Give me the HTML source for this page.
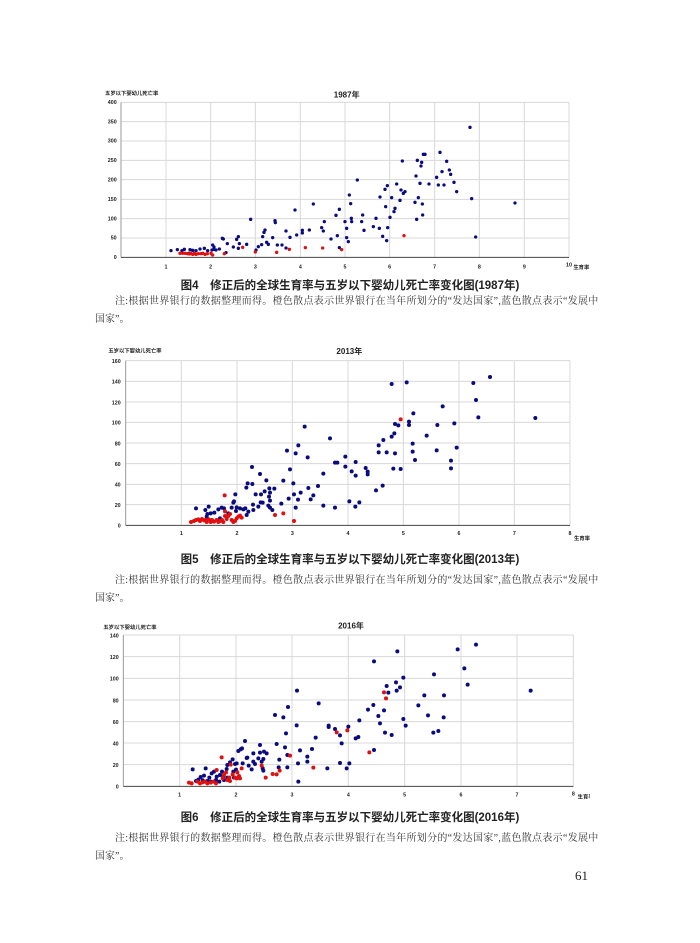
<!DOCTYPE html>
<html><head><meta charset="utf-8"><style>
body{margin:0;background:#fff;width:700px;height:943px;position:relative;overflow:hidden;font-family:"Liberation Sans","Noto Sans CJK SC",sans-serif}
svg{position:absolute}
.cap{position:absolute;left:0;width:700px;text-align:center;font-size:11.5px;font-weight:bold;color:#222;font-family:"Liberation Sans","Noto Sans CJK SC",sans-serif}
.n1{position:absolute;left:115px;width:476px;font-size:10px;color:#333;font-family:"Liberation Serif","Noto Serif CJK SC",serif;text-align:justify;text-align-last:justify;white-space:nowrap;letter-spacing:0.3px}
.n2{position:absolute;left:95px;font-size:10px;color:#333;font-family:"Liberation Serif","Noto Serif CJK SC",serif}
.t{font-size:16px;font-weight:bold;fill:#222}
.tt{font-size:24px;font-weight:bold;fill:#222}
.b circle{fill:#0b0b80}
.r circle{fill:#e01010}
</style></head><body>

<!-- Chart 1 -->
<svg style="left:90px;top:85px" width="500" height="240" viewBox="0 0 1500 720">
<g stroke="#d8d8d8" stroke-width="3">
<line x1="93" y1="52" x2="1437" y2="52"/><line x1="93" y1="110" x2="1437" y2="110"/><line x1="93" y1="168" x2="1437" y2="168"/><line x1="93" y1="226" x2="1437" y2="226"/><line x1="93" y1="284" x2="1437" y2="284"/><line x1="93" y1="343" x2="1437" y2="343"/><line x1="93" y1="401" x2="1437" y2="401"/><line x1="93" y1="459" x2="1437" y2="459"/>
<line x1="228" y1="52" x2="228" y2="517"/><line x1="362" y1="52" x2="362" y2="517"/><line x1="496" y1="52" x2="496" y2="517"/><line x1="631" y1="52" x2="631" y2="517"/><line x1="765" y1="52" x2="765" y2="517"/><line x1="899" y1="52" x2="899" y2="517"/><line x1="1034" y1="52" x2="1034" y2="517"/><line x1="1168" y1="52" x2="1168" y2="517"/><line x1="1303" y1="52" x2="1303" y2="517"/><line x1="1437" y1="52" x2="1437" y2="517"/>
</g>
<line x1="93" y1="52" x2="93" y2="517" stroke="#999" stroke-width="3"/>
<line x1="93" y1="517" x2="1437" y2="517" stroke="#444" stroke-width="3"/>
<g class="t" text-anchor="end"><text x="80" y="57">400</text><text x="80" y="115">350</text><text x="80" y="173">300</text><text x="80" y="231">250</text><text x="80" y="289">200</text><text x="80" y="348">150</text><text x="80" y="406">100</text><text x="80" y="464">50</text><text x="80" y="522">0</text></g>
<g class="t" text-anchor="middle"><text x="228" y="550">1</text><text x="362" y="550">2</text><text x="496" y="550">3</text><text x="631" y="550">4</text><text x="765" y="550">5</text><text x="899" y="550">6</text><text x="1034" y="550">7</text><text x="1168" y="550">8</text><text x="1303" y="550">9</text><text x="1437" y="545">10</text></g>
<text x="1450" y="552" class="t" font-size="13">生育率</text>
<text x="45" y="30" class="t" font-size="15">五岁以下婴幼儿死亡率</text>
<text x="770" y="38" class="tt" text-anchor="middle">1987年</text>
<g class="b">
<circle cx="1140" cy="127" r="5"/><circle cx="1050" cy="202" r="5"/><circle cx="1070" cy="229" r="5"/><circle cx="1000" cy="208" r="5"/><circle cx="1005" cy="208" r="5"/><circle cx="937" cy="228" r="5"/><circle cx="995" cy="232" r="5"/><circle cx="993" cy="243" r="5"/><circle cx="982" cy="226" r="5"/><circle cx="978" cy="273" r="5"/><circle cx="1040" cy="277" r="5"/><circle cx="1078" cy="255" r="5"/><circle cx="1082" cy="268" r="5"/><circle cx="1056" cy="260" r="5"/><circle cx="1045" cy="300" r="5"/><circle cx="1062" cy="300" r="5"/><circle cx="1092" cy="292" r="5"/><circle cx="1100" cy="320" r="5"/><circle cx="1145" cy="341" r="5"/><circle cx="1157" cy="456" r="5"/><circle cx="1275" cy="354" r="5"/><circle cx="1017" cy="297" r="5"/><circle cx="990" cy="295" r="5"/><circle cx="985" cy="338" r="5"/><circle cx="975" cy="352" r="5"/><circle cx="980" cy="403" r="5"/><circle cx="997" cy="357" r="5"/><circle cx="998" cy="390" r="5"/><circle cx="940" cy="325" r="5"/><circle cx="930" cy="346" r="5"/><circle cx="933" cy="315" r="5"/><circle cx="945" cy="320" r="5"/><circle cx="920" cy="297" r="5"/><circle cx="915" cy="370" r="5"/><circle cx="905" cy="338" r="5"/><circle cx="900" cy="397" r="5"/><circle cx="892" cy="302" r="5"/><circle cx="887" cy="365" r="5"/><circle cx="912" cy="380" r="5"/><circle cx="890" cy="467" r="5"/><circle cx="885" cy="313" r="5"/><circle cx="870" cy="336" r="5"/><circle cx="893" cy="428" r="5"/><circle cx="878" cy="454" r="5"/><circle cx="868" cy="430" r="5"/><circle cx="858" cy="400" r="5"/><circle cx="850" cy="425" r="5"/><circle cx="818" cy="390" r="5"/><circle cx="822" cy="436" r="5"/><circle cx="815" cy="410" r="5"/><circle cx="802" cy="285" r="5"/><circle cx="784" cy="400" r="5"/><circle cx="778" cy="330" r="5"/><circle cx="782" cy="356" r="5"/><circle cx="785" cy="410" r="5"/><circle cx="770" cy="430" r="5"/><circle cx="770" cy="458" r="5"/><circle cx="775" cy="470" r="5"/><circle cx="765" cy="410" r="5"/><circle cx="748" cy="373" r="5"/><circle cx="738" cy="391" r="5"/><circle cx="723" cy="462" r="5"/><circle cx="748" cy="488" r="5"/><circle cx="742" cy="452" r="5"/><circle cx="703" cy="410" r="5"/><circle cx="700" cy="438" r="5"/><circle cx="695" cy="428" r="5"/><circle cx="670" cy="357" r="5"/><circle cx="658" cy="435" r="5"/><circle cx="637" cy="436" r="5"/><circle cx="637" cy="444" r="5"/><circle cx="615" cy="375" r="5"/><circle cx="620" cy="450" r="5"/><circle cx="600" cy="457" r="5"/><circle cx="588" cy="438" r="5"/><circle cx="588" cy="489" r="5"/><circle cx="576" cy="480" r="5"/><circle cx="562" cy="480" r="5"/><circle cx="556" cy="413" r="5"/><circle cx="555" cy="407" r="5"/><circle cx="548" cy="458" r="5"/><circle cx="535" cy="478" r="5"/><circle cx="530" cy="472" r="5"/><circle cx="525" cy="435" r="5"/><circle cx="522" cy="442" r="5"/><circle cx="518" cy="455" r="5"/><circle cx="515" cy="479" r="5"/><circle cx="505" cy="485" r="5"/><circle cx="498" cy="495" r="5"/><circle cx="482" cy="403" r="5"/><circle cx="470" cy="478" r="5"/><circle cx="445" cy="455" r="5"/><circle cx="448" cy="476" r="5"/><circle cx="440" cy="463" r="5"/><circle cx="445" cy="490" r="5"/><circle cx="430" cy="486" r="5"/><circle cx="412" cy="476" r="5"/><circle cx="408" cy="503" r="5"/><circle cx="400" cy="462" r="5"/><circle cx="397" cy="460" r="5"/><circle cx="388" cy="492" r="5"/><circle cx="372" cy="486" r="5"/><circle cx="368" cy="480" r="5"/><circle cx="378" cy="495" r="5"/><circle cx="366" cy="495" r="5"/><circle cx="353" cy="497" r="5"/><circle cx="343" cy="490" r="5"/><circle cx="330" cy="492" r="5"/><circle cx="318" cy="497" r="5"/><circle cx="308" cy="496" r="5"/><circle cx="300" cy="494" r="5"/><circle cx="297" cy="505" r="5"/><circle cx="283" cy="493" r="5"/><circle cx="276" cy="497" r="5"/><circle cx="262" cy="494" r="5"/><circle cx="243" cy="497" r="5"/><circle cx="372" cy="493" r="5"/>
</g>
<g class="r">
<circle cx="270" cy="505" r="5"/><circle cx="278" cy="505" r="5"/><circle cx="285" cy="505" r="5"/><circle cx="292" cy="506" r="5"/><circle cx="298" cy="507" r="5"/><circle cx="302" cy="505" r="5"/><circle cx="308" cy="508" r="5"/><circle cx="313" cy="505" r="5"/><circle cx="318" cy="508" r="5"/><circle cx="325" cy="506" r="5"/><circle cx="333" cy="506" r="5"/><circle cx="338" cy="505" r="5"/><circle cx="345" cy="508" r="5"/><circle cx="352" cy="506" r="5"/><circle cx="363" cy="505" r="5"/><circle cx="368" cy="510" r="5"/><circle cx="403" cy="506" r="5"/><circle cx="458" cy="487" r="5"/><circle cx="496" cy="501" r="5"/><circle cx="560" cy="502" r="5"/><circle cx="598" cy="493" r="5"/><circle cx="646" cy="488" r="5"/><circle cx="698" cy="489" r="5"/><circle cx="755" cy="494" r="5"/><circle cx="942" cy="452" r="5"/>
</g>
</svg>
<div class="cap" style="top:277px">图4　修正后的全球生育率与五岁以下婴幼儿死亡率变化图(1987年)</div>
<div class="n1" style="top:292px">注:根据世界银行的数据整理而得。橙色散点表示世界银行在当年所划分的“发达国家”,蓝色散点表示“发展中</div>
<div class="n2" style="top:310px">国家”。</div>

<!-- Chart 2 -->
<svg style="left:90px;top:340px" width="500" height="260" viewBox="0 0 1500 780">
<g stroke="#d8d8d8" stroke-width="3">
<line x1="107" y1="62" x2="1440" y2="62"/><line x1="107" y1="124" x2="1440" y2="124"/><line x1="107" y1="186" x2="1440" y2="186"/><line x1="107" y1="247" x2="1440" y2="247"/><line x1="107" y1="309" x2="1440" y2="309"/><line x1="107" y1="371" x2="1440" y2="371"/><line x1="107" y1="433" x2="1440" y2="433"/><line x1="107" y1="494" x2="1440" y2="494"/>
<line x1="274" y1="62" x2="274" y2="556"/><line x1="441" y1="62" x2="441" y2="556"/><line x1="607" y1="62" x2="607" y2="556"/><line x1="774" y1="62" x2="774" y2="556"/><line x1="940" y1="62" x2="940" y2="556"/><line x1="1107" y1="62" x2="1107" y2="556"/><line x1="1273" y1="62" x2="1273" y2="556"/><line x1="1440" y1="62" x2="1440" y2="556"/>
</g>
<line x1="107" y1="62" x2="107" y2="556" stroke="#999" stroke-width="3"/>
<line x1="107" y1="556" x2="1440" y2="556" stroke="#444" stroke-width="3"/>
<g class="t" text-anchor="end" font-size="19"><text x="92" y="69">160</text><text x="92" y="131">140</text><text x="92" y="193">120</text><text x="92" y="254">100</text><text x="92" y="316">80</text><text x="92" y="378">60</text><text x="92" y="440">40</text><text x="92" y="501">20</text><text x="92" y="563">0</text></g>
<g class="t" text-anchor="middle" font-size="19"><text x="274" y="585">1</text><text x="441" y="585">2</text><text x="607" y="585">3</text><text x="774" y="585">4</text><text x="940" y="585">5</text><text x="1107" y="585">6</text><text x="1273" y="585">7</text><text x="1440" y="585">8</text></g>
<text x="1452" y="600" class="t" font-size="13">生育率</text>
<text x="55" y="38" class="t" font-size="15">五岁以下婴幼儿死亡率</text>
<text x="778" y="42" class="tt" text-anchor="middle">2013年</text>
<g class="b">
<circle cx="905" cy="132" r="6"/><circle cx="950" cy="127" r="6"/><circle cx="1150" cy="129" r="6"/><circle cx="1200" cy="111" r="6"/><circle cx="1158" cy="180" r="6"/><circle cx="1165" cy="232" r="6"/><circle cx="1336" cy="234" r="6"/><circle cx="1058" cy="199" r="6"/><circle cx="1093" cy="250" r="6"/><circle cx="1100" cy="323" r="6"/><circle cx="1040" cy="331" r="6"/><circle cx="1042" cy="255" r="6"/><circle cx="1083" cy="362" r="6"/><circle cx="1083" cy="385" r="6"/><circle cx="1010" cy="287" r="6"/><circle cx="970" cy="220" r="6"/><circle cx="968" cy="311" r="6"/><circle cx="968" cy="335" r="6"/><circle cx="975" cy="360" r="6"/><circle cx="957" cy="245" r="6"/><circle cx="957" cy="255" r="6"/><circle cx="932" cy="387" r="6"/><circle cx="925" cy="256" r="6"/><circle cx="915" cy="252" r="6"/><circle cx="913" cy="280" r="6"/><circle cx="905" cy="290" r="6"/><circle cx="880" cy="300" r="6"/><circle cx="866" cy="316" r="6"/><circle cx="866" cy="337" r="6"/><circle cx="890" cy="337" r="6"/><circle cx="915" cy="340" r="6"/><circle cx="910" cy="386" r="6"/><circle cx="878" cy="437" r="6"/><circle cx="858" cy="451" r="6"/><circle cx="833" cy="395" r="6"/><circle cx="833" cy="403" r="6"/><circle cx="827" cy="384" r="6"/><circle cx="797" cy="366" r="6"/><circle cx="797" cy="407" r="6"/><circle cx="785" cy="394" r="6"/><circle cx="766" cy="350" r="6"/><circle cx="766" cy="380" r="6"/><circle cx="808" cy="487" r="6"/><circle cx="796" cy="500" r="6"/><circle cx="778" cy="484" r="6"/><circle cx="720" cy="295" r="6"/><circle cx="735" cy="368" r="6"/><circle cx="742" cy="368" r="6"/><circle cx="735" cy="503" r="6"/><circle cx="700" cy="401" r="6"/><circle cx="700" cy="497" r="6"/><circle cx="684" cy="438" r="6"/><circle cx="670" cy="466" r="6"/><circle cx="662" cy="478" r="6"/><circle cx="655" cy="444" r="6"/><circle cx="653" cy="352" r="6"/><circle cx="644" cy="260" r="6"/><circle cx="632" cy="458" r="6"/><circle cx="625" cy="316" r="6"/><circle cx="617" cy="340" r="6"/><circle cx="624" cy="479" r="6"/><circle cx="617" cy="503" r="6"/><circle cx="610" cy="430" r="6"/><circle cx="612" cy="463" r="6"/><circle cx="600" cy="388" r="6"/><circle cx="591" cy="332" r="6"/><circle cx="596" cy="476" r="6"/><circle cx="580" cy="422" r="6"/><circle cx="574" cy="491" r="6"/><circle cx="553" cy="446" r="6"/><circle cx="547" cy="510" r="6"/><circle cx="540" cy="458" r="6"/><circle cx="538" cy="445" r="6"/><circle cx="537" cy="470" r="6"/><circle cx="540" cy="482" r="6"/><circle cx="535" cy="497" r="6"/><circle cx="540" cy="503" r="6"/><circle cx="529" cy="421" r="6"/><circle cx="524" cy="454" r="6"/><circle cx="518" cy="488" r="6"/><circle cx="513" cy="463" r="6"/><circle cx="510" cy="402" r="6"/><circle cx="512" cy="487" r="6"/><circle cx="505" cy="500" r="6"/><circle cx="497" cy="463" r="6"/><circle cx="489" cy="494" r="6"/><circle cx="487" cy="432" r="6"/><circle cx="486" cy="381" r="6"/><circle cx="490" cy="510" r="6"/><circle cx="475" cy="515" r="6"/><circle cx="473" cy="430" r="6"/><circle cx="469" cy="443" r="6"/><circle cx="470" cy="525" r="6"/><circle cx="466" cy="505" r="6"/><circle cx="460" cy="508" r="6"/><circle cx="450" cy="505" r="6"/><circle cx="440" cy="502" r="6"/><circle cx="438" cy="513" r="6"/><circle cx="436" cy="463" r="6"/><circle cx="432" cy="484" r="6"/><circle cx="430" cy="488" r="6"/><circle cx="425" cy="503" r="6"/><circle cx="415" cy="520" r="6"/><circle cx="402" cy="505" r="6"/><circle cx="395" cy="503" r="6"/><circle cx="385" cy="508" r="6"/><circle cx="373" cy="518" r="6"/><circle cx="362" cy="520" r="6"/><circle cx="356" cy="500" r="6"/><circle cx="352" cy="522" r="6"/><circle cx="346" cy="510" r="6"/><circle cx="318" cy="505" r="6"/><circle cx="390" cy="535" r="6"/><circle cx="350" cy="530" r="6"/>
</g>
<g class="r">
<circle cx="303" cy="546" r="6"/><circle cx="312" cy="543" r="6"/><circle cx="318" cy="540" r="6"/><circle cx="325" cy="538" r="6"/><circle cx="330" cy="543" r="6"/><circle cx="336" cy="537" r="6"/><circle cx="342" cy="541" r="6"/><circle cx="346" cy="540" r="6"/><circle cx="350" cy="546" r="6"/><circle cx="356" cy="538" r="6"/><circle cx="362" cy="546" r="6"/><circle cx="366" cy="540" r="6"/><circle cx="372" cy="545" r="6"/><circle cx="380" cy="540" r="6"/><circle cx="385" cy="546" r="6"/><circle cx="390" cy="543" r="6"/><circle cx="396" cy="540" r="6"/><circle cx="400" cy="546" r="6"/><circle cx="405" cy="528" r="6"/><circle cx="410" cy="537" r="6"/><circle cx="404" cy="466" r="6"/><circle cx="405" cy="514" r="6"/><circle cx="415" cy="528" r="6"/><circle cx="420" cy="522" r="6"/><circle cx="425" cy="540" r="6"/><circle cx="430" cy="546" r="6"/><circle cx="435" cy="543" r="6"/><circle cx="440" cy="535" r="6"/><circle cx="445" cy="530" r="6"/><circle cx="450" cy="527" r="6"/><circle cx="455" cy="533" r="6"/><circle cx="555" cy="525" r="6"/><circle cx="580" cy="520" r="6"/><circle cx="612" cy="543" r="6"/><circle cx="932" cy="238" r="6"/>
</g>
</svg>
<div class="cap" style="top:551px">图5　修正后的全球生育率与五岁以下婴幼儿死亡率变化图(2013年)</div>
<div class="n1" style="top:571px">注:根据世界银行的数据整理而得。橙色散点表示世界银行在当年所划分的“发达国家”,蓝色散点表示“发展中</div>
<div class="n2" style="top:589px">国家”。</div>

<!-- Chart 3 -->
<svg style="left:90px;top:615px" width="500" height="250" viewBox="0 0 1500 750">
<g stroke="#d8d8d8" stroke-width="3">
<line x1="100" y1="60" x2="1450" y2="60"/><line x1="100" y1="125" x2="1450" y2="125"/><line x1="100" y1="190" x2="1450" y2="190"/><line x1="100" y1="255" x2="1450" y2="255"/><line x1="100" y1="320" x2="1450" y2="320"/><line x1="100" y1="384" x2="1450" y2="384"/><line x1="100" y1="449" x2="1450" y2="449"/>
<line x1="269" y1="60" x2="269" y2="514"/><line x1="438" y1="60" x2="438" y2="514"/><line x1="606" y1="60" x2="606" y2="514"/><line x1="775" y1="60" x2="775" y2="514"/><line x1="944" y1="60" x2="944" y2="514"/><line x1="1113" y1="60" x2="1113" y2="514"/><line x1="1281" y1="60" x2="1281" y2="514"/><line x1="1450" y1="60" x2="1450" y2="514"/>
</g>
<line x1="100" y1="60" x2="100" y2="514" stroke="#999" stroke-width="3"/>
<line x1="100" y1="514" x2="1450" y2="514" stroke="#444" stroke-width="3"/>
<g class="t" text-anchor="end" font-size="19"><text x="86" y="67">140</text><text x="86" y="132">120</text><text x="86" y="197">100</text><text x="86" y="262">80</text><text x="86" y="327">60</text><text x="86" y="391">40</text><text x="86" y="456">20</text><text x="86" y="521">0</text></g>
<g class="t" text-anchor="middle" font-size="19"><text x="269" y="545">1</text><text x="438" y="545">2</text><text x="606" y="545">3</text><text x="775" y="545">4</text><text x="944" y="545">5</text><text x="1113" y="545">6</text><text x="1281" y="545">7</text><text x="1450" y="542">8</text></g>
<text x="1463" y="550" class="t" font-size="13">生育率</text>
<text x="40" y="42" class="t" font-size="15">五岁以下婴幼儿死亡率</text>
<text x="783" y="40" class="tt" text-anchor="middle">2016年</text>
<g class="b">
<circle cx="1158" cy="89" r="6"/><circle cx="1103" cy="103" r="6"/><circle cx="1123" cy="160" r="6"/><circle cx="1133" cy="209" r="6"/><circle cx="1322" cy="227" r="6"/><circle cx="922" cy="109" r="6"/><circle cx="852" cy="139" r="6"/><circle cx="1032" cy="178" r="6"/><circle cx="1003" cy="241" r="6"/><circle cx="1062" cy="241" r="6"/><circle cx="1014" cy="301" r="6"/><circle cx="1030" cy="353" r="6"/><circle cx="1045" cy="348" r="6"/><circle cx="1061" cy="307" r="6"/><circle cx="985" cy="271" r="6"/><circle cx="940" cy="188" r="6"/><circle cx="918" cy="202" r="6"/><circle cx="930" cy="217" r="6"/><circle cx="920" cy="227" r="6"/><circle cx="890" cy="213" r="6"/><circle cx="895" cy="233" r="6"/><circle cx="882" cy="286" r="6"/><circle cx="865" cy="303" r="6"/><circle cx="850" cy="270" r="6"/><circle cx="834" cy="284" r="6"/><circle cx="870" cy="325" r="6"/><circle cx="885" cy="353" r="6"/><circle cx="905" cy="360" r="6"/><circle cx="940" cy="312" r="6"/><circle cx="947" cy="332" r="6"/><circle cx="852" cy="405" r="6"/><circle cx="808" cy="316" r="6"/><circle cx="805" cy="366" r="6"/><circle cx="797" cy="370" r="6"/><circle cx="775" cy="335" r="6"/><circle cx="778" cy="445" r="6"/><circle cx="770" cy="460" r="6"/><circle cx="750" cy="444" r="6"/><circle cx="755" cy="385" r="6"/><circle cx="750" cy="361" r="6"/><circle cx="735" cy="342" r="6"/><circle cx="716" cy="332" r="6"/><circle cx="716" cy="336" r="6"/><circle cx="712" cy="460" r="6"/><circle cx="686" cy="265" r="6"/><circle cx="677" cy="368" r="6"/><circle cx="666" cy="402" r="6"/><circle cx="652" cy="425" r="6"/><circle cx="652" cy="440" r="6"/><circle cx="630" cy="406" r="6"/><circle cx="624" cy="445" r="6"/><circle cx="625" cy="500" r="6"/><circle cx="621" cy="227" r="6"/><circle cx="620" cy="331" r="6"/><circle cx="594" cy="276" r="6"/><circle cx="592" cy="420" r="6"/><circle cx="592" cy="457" r="6"/><circle cx="588" cy="355" r="6"/><circle cx="585" cy="397" r="6"/><circle cx="580" cy="307" r="6"/><circle cx="555" cy="300" r="6"/><circle cx="560" cy="387" r="6"/><circle cx="568" cy="434" r="6"/><circle cx="566" cy="457" r="6"/><circle cx="530" cy="415" r="6"/><circle cx="522" cy="410" r="6"/><circle cx="520" cy="432" r="6"/><circle cx="518" cy="460" r="6"/><circle cx="520" cy="467" r="6"/><circle cx="510" cy="413" r="6"/><circle cx="515" cy="440" r="6"/><circle cx="510" cy="390" r="6"/><circle cx="505" cy="430" r="6"/><circle cx="495" cy="447" r="6"/><circle cx="490" cy="415" r="6"/><circle cx="490" cy="440" r="6"/><circle cx="485" cy="463" r="6"/><circle cx="476" cy="452" r="6"/><circle cx="472" cy="428" r="6"/><circle cx="465" cy="378" r="6"/><circle cx="470" cy="429" r="6"/><circle cx="458" cy="445" r="6"/><circle cx="456" cy="400" r="6"/><circle cx="452" cy="403" r="6"/><circle cx="448" cy="488" r="6"/><circle cx="445" cy="408" r="6"/><circle cx="440" cy="445" r="6"/><circle cx="438" cy="464" r="6"/><circle cx="432" cy="488" r="6"/><circle cx="430" cy="470" r="6"/><circle cx="420" cy="442" r="6"/><circle cx="412" cy="450" r="6"/><circle cx="412" cy="488" r="6"/><circle cx="402" cy="495" r="6"/><circle cx="396" cy="470" r="6"/><circle cx="390" cy="480" r="6"/><circle cx="388" cy="500" r="6"/><circle cx="380" cy="485" r="6"/><circle cx="372" cy="470" r="6"/><circle cx="365" cy="475" r="6"/><circle cx="358" cy="488" r="6"/><circle cx="352" cy="498" r="6"/><circle cx="347" cy="460" r="6"/><circle cx="342" cy="482" r="6"/><circle cx="338" cy="496" r="6"/><circle cx="332" cy="486" r="6"/><circle cx="325" cy="494" r="6"/><circle cx="318" cy="498" r="6"/><circle cx="308" cy="463" r="6"/><circle cx="428" cy="433" r="6"/><circle cx="435" cy="447" r="6"/><circle cx="410" cy="462" r="6"/><circle cx="400" cy="484" r="6"/><circle cx="378" cy="495" r="6"/><circle cx="362" cy="500" r="6"/>
</g>
<g class="r">
<circle cx="297" cy="503" r="6"/><circle cx="305" cy="505" r="6"/><circle cx="322" cy="500" r="6"/><circle cx="330" cy="505" r="6"/><circle cx="338" cy="502" r="6"/><circle cx="345" cy="500" r="6"/><circle cx="352" cy="505" r="6"/><circle cx="362" cy="503" r="6"/><circle cx="370" cy="500" r="6"/><circle cx="378" cy="505" r="6"/><circle cx="380" cy="465" r="6"/><circle cx="395" cy="427" r="6"/><circle cx="398" cy="490" r="6"/><circle cx="402" cy="480" r="6"/><circle cx="408" cy="472" r="6"/><circle cx="412" cy="495" r="6"/><circle cx="418" cy="488" r="6"/><circle cx="422" cy="449" r="6"/><circle cx="428" cy="478" r="6"/><circle cx="435" cy="488" r="6"/><circle cx="440" cy="490" r="6"/><circle cx="447" cy="483" r="6"/><circle cx="455" cy="460" r="6"/><circle cx="450" cy="490" r="6"/><circle cx="515" cy="452" r="6"/><circle cx="527" cy="488" r="6"/><circle cx="548" cy="477" r="6"/><circle cx="560" cy="478" r="6"/><circle cx="569" cy="467" r="6"/><circle cx="600" cy="422" r="6"/><circle cx="670" cy="458" r="6"/><circle cx="740" cy="352" r="6"/><circle cx="772" cy="346" r="6"/><circle cx="838" cy="412" r="6"/><circle cx="882" cy="232" r="6"/><circle cx="888" cy="250" r="6"/><circle cx="420" cy="498" r="6"/><circle cx="442" cy="472" r="6"/>
</g>
</svg>
<div class="cap" style="top:809px">图6　修正后的全球生育率与五岁以下婴幼儿死亡率变化图(2016年)</div>
<div class="n1" style="top:829px">注:根据世界银行的数据整理而得。橙色散点表示世界银行在当年所划分的“发达国家”,蓝色散点表示“发展中</div>
<div class="n2" style="top:847px">国家”。</div>

<div style="position:absolute;left:575px;top:868px;font-size:13px;font-family:'Liberation Serif',serif;color:#222">61</div>
</body></html>
